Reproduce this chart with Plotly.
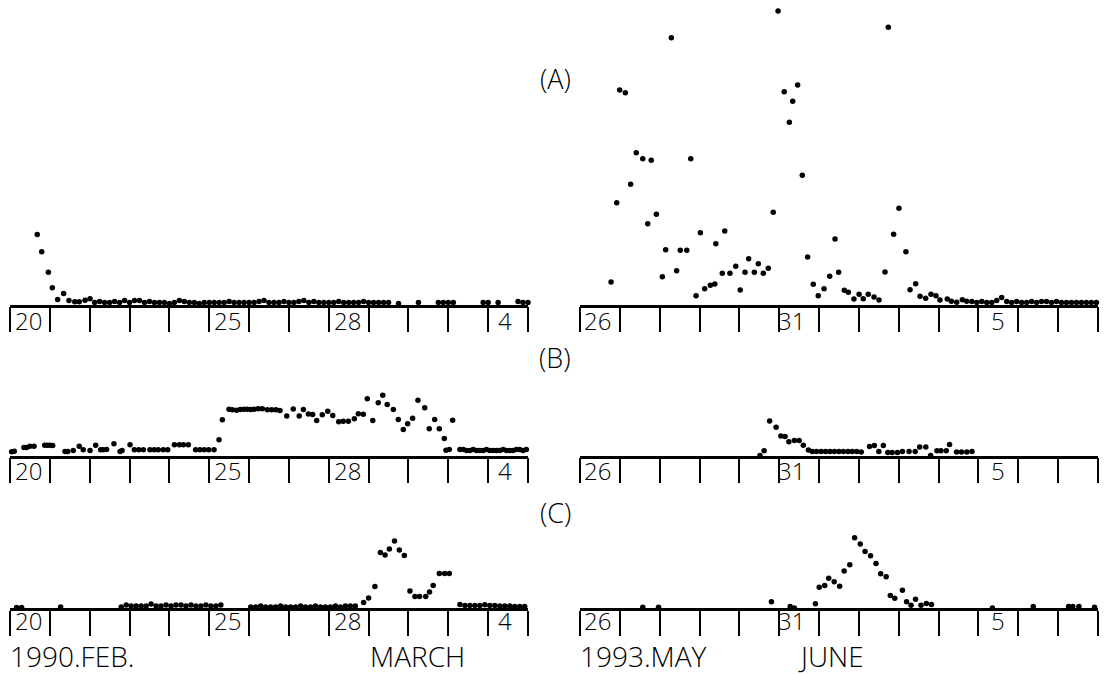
import plotly.graph_objects as go

W, H = 1113, 674

# ---------------- 1990 FEB-MARCH (hours after 20 Feb 00:00) ----------------
FEB_A_T = [16.4, 19.1, 23.1, 25.5, 28.7, 32.3, 35.5, 39.0, 41.7, 45.2, 48.2]
FEB_A_V = [70, 52.7, 32.3, 16.7, 5, 11, 4, 2.7, 2.7, 4.3, 5.7]
# 3-hourly record from 51 h onward (None = no record)
FEB_A_RUN_START, FEB_A_RUN_STEP = 51, 3
FEB_A_RUN_V = [2, 3, 2, 2, 3, 2, 4, 2, 4, 4,
               2, 3, 2, 2, 2, 1, 2, 4, 3, 2,
               2, 1, 2, 2, 2, 2, 2, 3, 2, 2,
               2, 2, 2, 3, 4, 2, 2, 2, 3, 2,
               2, 3, 4, 2, 3, 2, 2, 2, 2, 3,
               2, 2, 2, 2, 3, 2, 2, 2, 2, 2,
               None, 1, None, None, None, 2, None, None, None, 2,
               2, 2, 2, None, None, None, None, None, 2, 2,
               None, 2, None, None, None, 3, 2, 2]

FEB_B_T = [-0.5, 1.0, 2.6, 8.4, 10.1, 12.0, 14.5, 20.9, 22.5, 24.1, 25.7, 33.1, 34.8,
           38.1, 41.7, 44.1, 48.2, 51.6, 54.6, 56.2, 58.2, 62.6, 66.3, 67.5, 72.3,
           74.9, 77.5, 80.3, 84.3, 86.9, 89.3, 92.3, 95.0, 99.0, 102.0, 104.4, 107.4,
           111.8, 114.4, 117.0, 119.7, 122.9, 125.9, 127.9, 131.9, 133.9, 136.5,
           138.7, 140.9, 142.9, 145.0, 147.0, 149.5, 152.0, 155.0, 157.6, 160.2,
           162.6, 166.7, 170.6, 174.2, 176.7, 179.7, 182.3, 184.7, 188.1, 191.4,
           194.4, 198.0, 200.7, 203.8, 207.4, 209.8, 212.8, 215.2, 218.5, 221.8,
           224.5, 227.2, 230.9, 233.9, 236.9, 239.5, 242.5, 245.7, 249.8, 252.5,
           255.8, 258.6, 261.6, 262.6, 264.6, 266.6]
FEB_B_V = [3.7, 3.7, 4.3, 8, 8, 9.3, 9.3, 10.3, 10.3, 10.3, 10, 4, 4,
           5, 9.3, 5.7, 5, 10.3, 5.7, 5.7, 6, 11.7, 4, 5, 10.7,
           5.7, 5.7, 5.7, 5.7, 5.7, 5.7, 5.7, 5.7, 10.7, 10.7, 10.7, 10.7,
           5.7, 5.7, 5.7, 5.7, 5.7, 15.7, 35.7, 46.3, 45.7, 45.3,
           46, 46.3, 46.3, 46, 46.3, 46.7, 46.7, 45.7, 45.7, 45.7,
           45, 39.5, 46.5, 39.5, 46, 41.5, 41, 35, 40.7, 44.3,
           40, 33.7, 34.3, 34.3, 36.7, 41.7, 41.3, 56.7, 35, 52.7,
           60.3, 51, 46, 36, 26, 31.7, 37.3, 55.3, 47.7, 26.7,
           36, 26.7, 17, 5.3, 6, 35.3]
FEB_B_RUN_START, FEB_B_RUN_STEP = 271, 2
FEB_B_RUN_V = [6, 6, 5, 5, 6, 5, 5, 5, 6, 5, 5, 5, 5, 6, 5, 5, 5, 6, 6, 5, 6]

FEB_C_T = [4.0, 7.0, 30.5, 213.0, 216.0, 219.8, 223.1, 225.9, 228.5, 231.6, 234.5,
           237.5, 240.9, 243.9, 246.7, 250.4, 252.7, 254.9, 258.6, 261.8, 264.6]
FEB_C_V = [0.5, 0.5, 1.1, 5.4, 10, 21.4, 55.4, 52.9, 58.9, 67.1, 57.9,
           52.5, 17.1, 11.4, 11.4, 11.4, 16.1, 22.5, 34.6, 34.6, 34.6]
FEB_C_RUN1_START, FEB_C_RUN1_STEP = 67, 3
FEB_C_RUN1_V = [1, 3, 2, 2, 2, 2, 4, 2, 2, 3, 2, 3, 3, 2, 3, 2, 2, 3, 2, 2, 3]
FEB_C_RUN2_START, FEB_C_RUN2_STEP = 145, 3
FEB_C_RUN2_V = [1, 1, 2, 1, 1, 1, 2, 1, 1, 1, 2, 1, 1, 2, 1, 1, 1, 2, 1, 2, 2, 2]
FEB_C_RUN3_START, FEB_C_RUN3_STEP = 271, 3
FEB_C_RUN3_V = [3.6, 2.5, 2.5, 2.5, 2.5, 3.2, 2.5, 2.5, 2, 2, 2, 1.4, 1.4, 1.4]

# ---------------- 1993 MAY-JUNE (hours after 26 May 00:00) ----------------
MAY_A_T = [18.7, 22.1, 23.9, 27.3, 30.5, 33.9, 37.8, 40.8, 42.9, 46.0, 49.6, 51.6,
           55.0, 58.2, 60.4, 64.3, 66.7, 69.9, 72.5, 75.1, 78.5, 81.2, 81.8,
           85.7, 87.2, 90.3, 93.8, 96.5, 99.4, 101.6, 105.0, 107.4, 110.4, 113.4,
           116.4, 119.3, 123.0, 126.1, 128.1, 131.1, 133.9, 137.1, 140.5, 143.5,
           147.0, 150.4, 153.6, 155.8, 159.2, 161.6, 165.0, 168.1, 170.6, 173.6,
           177.1, 180.1, 183.7, 185.7, 188.9, 192.1, 196.3, 198.8, 202.2, 204.8,
           208.2, 211.4, 214.4, 216.8, 221.2, 223.7, 226.9, 230.3, 232.9]
MAY_A_V = [22.5, 101.8, 214.5, 211.8, 120.2, 151.8, 145.8, 80.8, 144.2, 90.2, 27.8, 54.8,
           266.8, 33.8, 54.2, 54.2, 145.8, 8.8, 71.8, 15.8, 19.2, 20.5, 60.8,
           31.2, 73.5, 31.2, 38.2, 14.5, 32.2, 45.8, 32.2, 40.8, 31.2, 36.2,
           92.2, 293.5, 212.8, 182.2, 203.2, 219.5, 129.2, 47.5, 20.2, 8.8,
           15.8, 28.2, 65.5, 32.2, 14.2, 12.2, 5.5, 10.2, 5.8, 10.2,
           7.5, 4.5, 32.5, 277.2, 70.2, 96.2, 52.8, 14.8, 20.8, 8.2,
           6.2, 10.2, 8.8, 4.5, 5.5, 3.2, 2.2, 4.8, 3.2]
MAY_A_RUN_START, MAY_A_RUN_STEP = 236, 3
MAY_A_RUN_V = [3, 2, 3, 2, 2, 4, 7, 3, 2, 3, 2, 2, 3, 2, 3, 3, 2, 3, 2, 2, 2, 2, 2, 2, 2, 2]

MAY_B_T = [108.4, 110.9, 114.2, 118.1, 121.0, 123.5, 125.8, 129.1, 132.0, 134.5, 137.6,
           139.9, 142.5, 145.2, 147.9, 150.6, 153.2, 155.9, 158.6, 161.4, 164.0,
           166.7, 169.4, 174.4, 177.3, 180.0, 182.7, 185.4, 188.0, 191.2, 194.2,
           198.2, 201.9, 204.6, 208.3, 211.2, 215.0, 217.4, 220.6, 222.6, 226.8,
           229.8, 233.0, 236.1]
MAY_B_V = [0, 4.8, 34.4, 28.2, 19.6, 18.9, 13.7, 15.1, 15.1, 10.3, 5.5,
           4.1, 4.1, 4.1, 4.1, 4.1, 4.1, 4.1, 4.1, 4.1, 4.1,
           4.1, 3.4, 8.9, 10, 4.1, 10, 3.1, 3.1, 3.1, 4.1,
           4.1, 4.1, 8.6, 8.6, 0, 4.8, 4.8, 4.8, 11, 3.4,
           3.4, 3.4, 4.1]

MAY_C_T = [37.8, 47.3, 115.3, 126.6, 129.1, 141.8, 144.1, 147.4, 149.8, 153.1, 156.4,
           159.1, 162.5, 165.4, 168.8, 171.7, 175.0, 178.3, 181.1, 184.4, 186.9,
           189.6, 194.2, 196.7, 199.4, 202.1, 205.4, 208.6, 211.7, 248.4, 273.0,
           294.3, 296.8, 300.5, 309.9]
MAY_C_V = [0.7, 0.7, 6.2, 1.4, 0, 4.2, 20.8, 22.5, 29.8, 26.3, 21.8,
           37.0, 43.3, 70.3, 64.1, 56.5, 52.3, 44.4, 34.3, 31.2, 12.5,
           9.7, 17.7, 6.2, 2.8, 8.7, 2.8, 4.5, 3.5, 0, 1.4,
           1.4, 1.4, 1.4, 0.7]

# day labels: (text, hour position)
FEB_LABELS = [("20", 11), ("25", 131), ("28", 203), ("4", 298)]
MAY_LABELS = [("26", 10.5), ("31", 127.5), ("5", 251.5)]
DAY_TICKS = list(range(0, 313, 24))


def run_points(start, step, values):
    t, v = [], []
    for i, val in enumerate(values):
        if val is not None:
            t.append(start + step * i)
            v.append(val)
    return t, v


def px_x(p):
    return p / W


def px_y(p):
    return 1 - p / H


FONT = "Open Sans"

# (axis suffix, column, row)
panels = {
    "A1": ("", 0, 0), "A2": ("2", 1, 0),
    "B1": ("3", 0, 1), "B2": ("4", 1, 1),
    "C1": ("5", 0, 2), "C2": ("6", 1, 2),
}
x_domains = [[px_x(10), px_x(528)], [px_x(580), px_x(1098)]]
# baseline pixel row, visible height, day-label pixel row for each row
rows = [(304.5, 304.5, 320), (455.5, 80, 470), (608, 80, 620.5)]

series = {"A1": [], "A2": [], "B1": [], "B2": [], "C1": [], "C2": []}
series["A1"] += [(FEB_A_T, FEB_A_V), run_points(FEB_A_RUN_START, FEB_A_RUN_STEP, FEB_A_RUN_V)]
series["B1"] += [(FEB_B_T, FEB_B_V), run_points(FEB_B_RUN_START, FEB_B_RUN_STEP, FEB_B_RUN_V)]
series["C1"] += [(FEB_C_T, FEB_C_V),
                 run_points(FEB_C_RUN1_START, FEB_C_RUN1_STEP, FEB_C_RUN1_V),
                 run_points(FEB_C_RUN2_START, FEB_C_RUN2_STEP, FEB_C_RUN2_V),
                 run_points(FEB_C_RUN3_START, FEB_C_RUN3_STEP, FEB_C_RUN3_V)]
series["A2"] += [(MAY_A_T, MAY_A_V), run_points(MAY_A_RUN_START, MAY_A_RUN_STEP, MAY_A_RUN_V)]
series["B2"] += [(MAY_B_T, MAY_B_V)]
series["C2"] += [(MAY_C_T, MAY_C_V)]

fig = go.Figure()
layout = dict(
    width=W, height=H,
    margin=dict(l=0, r=0, t=0, b=0),
    paper_bgcolor="white", plot_bgcolor="white",
    showlegend=False,
)
annotations = []

for key, (suf, col, row) in panels.items():
    base, span, label_y = rows[row]
    for t, v in series[key]:
        fig.add_trace(go.Scatter(
            x=t, y=v, mode="markers", xaxis="x" + suf, yaxis="y" + suf,
            marker=dict(size=5.5, color="black"), cliponaxis=False,
            hoverinfo="skip",
        ))
    layout["xaxis" + suf] = dict(
        domain=x_domains[col], anchor="y" + suf, range=[0, 312],
        showline=True, linecolor="black", linewidth=2.5,
        ticks="outside", ticklen=25, tickwidth=2, tickcolor="black",
        tickvals=DAY_TICKS, showticklabels=False,
        showgrid=False, zeroline=False, fixedrange=True,
    )
    layout["yaxis" + suf] = dict(
        domain=[px_y(base), px_y(base - span)], anchor="x" + suf,
        range=[0, span], visible=False, fixedrange=True,
    )
    labels = FEB_LABELS if col == 0 else MAY_LABELS
    for text, hour in labels:
        annotations.append(dict(
            x=hour, xref="x" + suf, y=px_y(label_y), yref="paper",
            text=text, showarrow=False, xanchor="center", yanchor="middle",
            font=dict(family=FONT, size=24, color="black", weight=300),
        ))

for text, ypx in [("(A)", 78), ("(B)", 357), ("(C)", 512)]:
    annotations.append(dict(
        x=px_x(555), y=px_y(ypx), xref="paper", yref="paper", text=text,
        showarrow=False, xanchor="center", yanchor="middle",
        font=dict(family=FONT, size=27, color="black", weight=300),
    ))

for text, xpx, anchor in [("1990.FEB.", 8, "left"), ("MARCH", 417, "center"),
                          ("1993.MAY", 578, "left"), ("JUNE", 831, "center")]:
    annotations.append(dict(
        x=px_x(xpx), y=px_y(655.5), xref="paper", yref="paper", text=text,
        showarrow=False, xanchor=anchor, yanchor="middle",
        font=dict(family=FONT, size=28, color="black", weight=300),
    ))

layout["annotations"] = annotations
fig.update_layout(**layout)
fig.write_html("out.html")
